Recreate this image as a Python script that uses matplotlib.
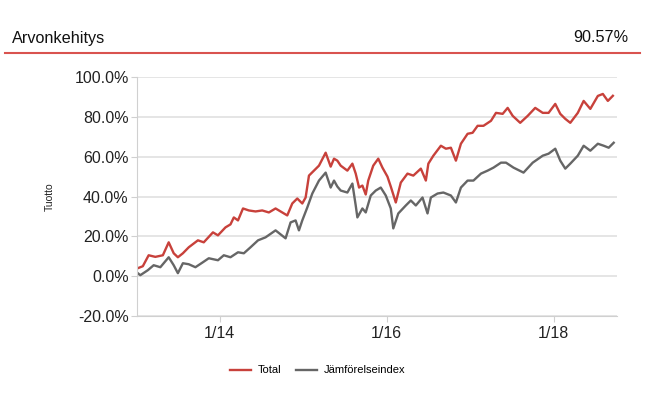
import numpy as np
import matplotlib
matplotlib.use("Agg")
import matplotlib.pyplot as plt
from matplotlib.lines import Line2D
from matplotlib.ticker import FuncFormatter

plt.rcParams['font.family'] = ['Liberation Sans', 'DejaVu Sans']

# Total (decimal year, return %)
total_t = [2013.02, 2013.08, 2013.15, 2013.23, 2013.32, 2013.39, 2013.45, 2013.50, 2013.56, 2013.63,
           2013.74, 2013.81, 2013.92, 2013.98, 2014.07, 2014.13, 2014.17, 2014.22, 2014.28, 2014.35,
           2014.43, 2014.51, 2014.59, 2014.67, 2014.75, 2014.81, 2014.87, 2014.93, 2014.99, 2015.03,
           2015.07, 2015.13, 2015.19, 2015.27, 2015.33, 2015.37, 2015.41, 2015.45, 2015.53, 2015.59,
           2015.63, 2015.67, 2015.71, 2015.75, 2015.78, 2015.84, 2015.90, 2015.95, 2016.01, 2016.05,
           2016.08, 2016.11, 2016.17, 2016.25, 2016.32, 2016.41, 2016.47, 2016.50, 2016.56, 2016.65,
           2016.71, 2016.77, 2016.83, 2016.89, 2016.97, 2017.03, 2017.09, 2017.16, 2017.25, 2017.31,
           2017.39, 2017.45, 2017.51, 2017.60, 2017.69, 2017.78, 2017.87, 2017.94, 2018.02, 2018.08,
           2018.14, 2018.20, 2018.29, 2018.36, 2018.44, 2018.53, 2018.59, 2018.65, 2018.71]
total_v = [4, 5, 10.5, 9.7, 10.5, 17, 11.5, 9.5, 11.5, 14.5,
           18, 17, 22, 20.5, 24.5, 26, 29.5, 28, 34, 33,
           32.5, 33, 32, 34, 32, 30.5, 36.5, 39, 36.5, 39.5,
           50.5, 53, 55.5, 62, 55, 59, 58, 55.5, 53, 56.5,
           51.5, 44.5, 45.5, 41, 48, 55.5, 59, 54.5, 50, 45,
           41, 37, 47, 51.5, 50.5, 54, 48, 56.5, 60.5, 65.5,
           64, 64.5, 58, 66.5, 71.5, 72, 75.5, 75.5, 78, 82,
           81.5, 84.5, 80.5, 77, 80.5, 84.5, 82, 82, 86.5, 81.5,
           79, 77, 82, 88, 84, 90.5, 91.5, 88, 90.57]

# Jämförelseindex
index_t = [2013.02, 2013.05, 2013.14, 2013.21, 2013.29, 2013.39, 2013.45, 2013.50, 2013.56, 2013.63,
           2013.71, 2013.80, 2013.87, 2013.98, 2014.05, 2014.13, 2014.22, 2014.29, 2014.37, 2014.46,
           2014.55, 2014.67, 2014.73, 2014.79, 2014.85, 2014.91, 2014.95, 2014.99, 2015.05, 2015.11,
           2015.19, 2015.27, 2015.33, 2015.37, 2015.41, 2015.45, 2015.53, 2015.59, 2015.63, 2015.65,
           2015.71, 2015.75, 2015.81, 2015.87, 2015.93, 2015.99, 2016.05, 2016.08, 2016.14, 2016.23,
           2016.29, 2016.35, 2016.43, 2016.49, 2016.53, 2016.61, 2016.68, 2016.77, 2016.83, 2016.89,
           2016.97, 2017.04, 2017.13, 2017.21, 2017.28, 2017.37, 2017.43, 2017.52, 2017.64, 2017.75,
           2017.87, 2017.94, 2018.02, 2018.08, 2018.14, 2018.20, 2018.29, 2018.36, 2018.44, 2018.53,
           2018.60, 2018.66, 2018.72]
index_v = [1.5, 0.5, 3, 5.5, 4.5, 9.5, 5.5, 1.5, 6.5, 6,
           4.5, 7, 9, 8, 10.5, 9.5, 12, 11.5, 14.5, 18,
           19.5, 23, 21, 19, 27, 28, 23, 28, 34.5, 41.5,
           48, 52, 44.5, 48, 45, 43, 42, 46.5, 35.5, 29.5,
           34, 32, 40.5, 43, 44.5, 40.5, 34, 24, 31.5, 35.5,
           38, 35.5, 39.5, 31.5, 39.5, 41.5, 42, 40.5, 37, 44.5,
           48, 48, 51.5, 53, 54.5, 57, 57, 54.5, 52, 57,
           60.5, 61.5, 64, 58, 54, 56.5, 60.5, 65.5, 63, 66.5,
           65.5, 64.5, 67]

y_ticks = [-20, 0, 20, 40, 60, 80, 100]
x_ticks = [2014, 2016, 2018]
x_labels = ['1/14', '1/16', '1/18']

red = '#c8413b'
gray = '#666666'
grid_c = '#e3e3e3'

fig = plt.figure(figsize=(6.47, 3.98), dpi=100)
ax = fig.add_axes([0.2117, 0.206, 0.742, 0.6005])

ax.plot(total_t, total_v, color=red, linewidth=1.7, label='Total')
ax.plot(index_t, index_v, color=gray, linewidth=1.7, label='Jämförelseindex')

ax.set_ylim(-20, 100)
ax.set_xlim(2013.01, 2018.76)
ax.set_yticks(y_ticks)
ax.yaxis.set_major_formatter(FuncFormatter(lambda v, p: '%.1f%%' % v))
ax.set_xticks(x_ticks)
ax.set_xticklabels(x_labels)
ax.grid(axis='y', color=grid_c, linewidth=1.3)
ax.set_axisbelow(True)
for s in ['top', 'right']:
    ax.spines[s].set_visible(False)
ax.spines['left'].set_color('#d0d0d0')
ax.spines['bottom'].set_color('#d0d0d0')
ax.tick_params(axis='both', colors='#d0d0d0', labelcolor='#222222', labelsize=11.5, length=4)
ax.tick_params(axis='y', pad=2)
ax.tick_params(axis='x', pad=3)
ax.set_ylabel('Tuotto', fontsize=7.5, color='#222222', labelpad=14)

ax.legend(loc='upper center', bbox_to_anchor=(0.376, -0.165), ncol=2, frameon=False,
          fontsize=8, handlelength=1.9, columnspacing=1.3, handletextpad=0.6)

# otsikko
fig.text(12 / 647, 1 - 38 / 398, 'Arvonkehitys', fontsize=11.7, va='center', ha='left', color='#111111')
fig.text(628 / 647, 1 - 38 / 398, '90.57%', fontsize=11.7, va='center', ha='right', color='#111111')
fig.add_artist(Line2D([5 / 647, 640 / 647], [1 - 53 / 398] * 2, color='#d9534f', linewidth=1.5))

fig.savefig('out.png', dpi=100)
